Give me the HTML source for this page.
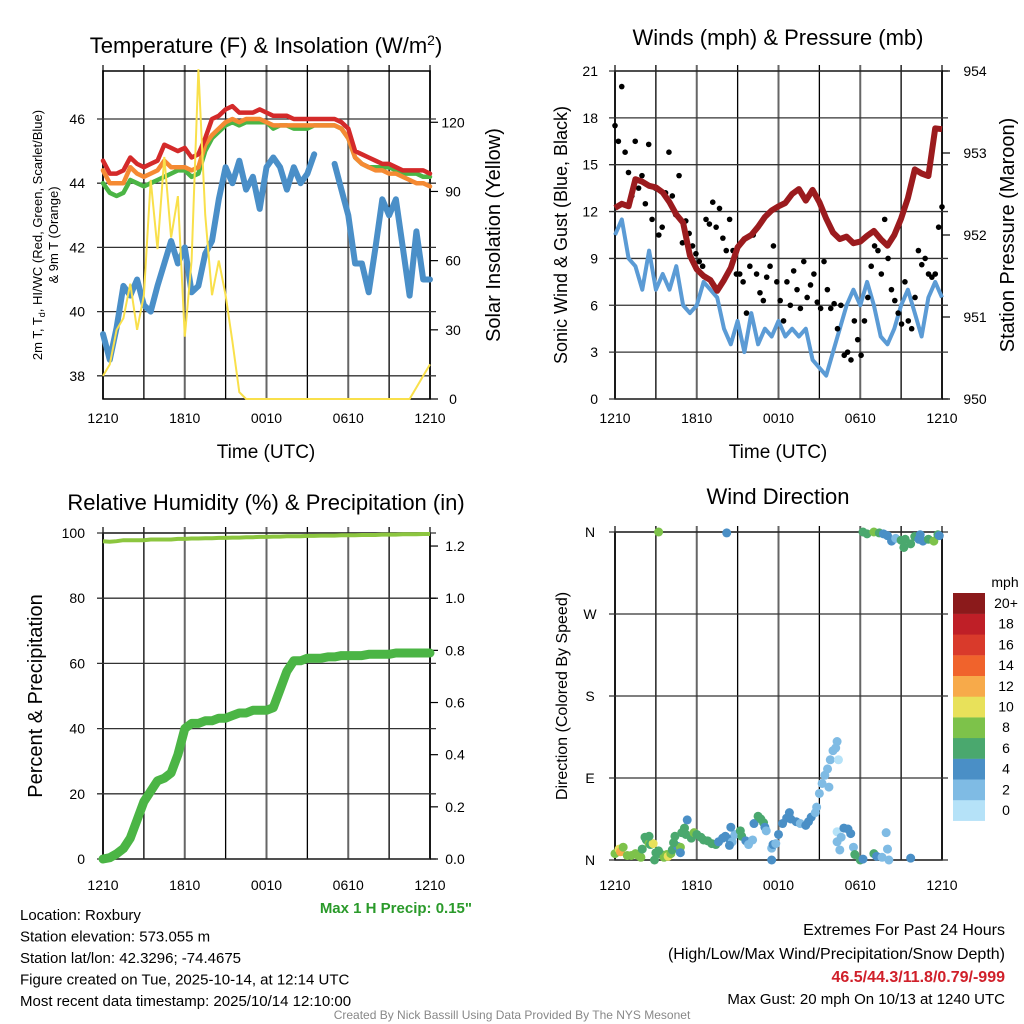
<!DOCTYPE html>
<html><head><meta charset="utf-8">
<style>
body{margin:0;background:#fff;}
svg{display:block;font-family:"Liberation Sans",Arial,sans-serif;}
</style></head>
<body>
<svg id="c" width="1024" height="1024" viewBox="0 0 1024 1024" xmlns="http://www.w3.org/2000/svg"></svg>
<script>
// ---------- DATA ----------
const timeLabels = ["1210","1810","0010","0610","1210"];
// Temperature panel (30-min samples, 49 points)
const tempRed = [44.7,44.3,44.3,44.4,44.8,44.6,44.5,44.6,44.7,45.2,45.1,45.0,45.1,44.8,44.9,45.4,46.0,46.1,46.3,46.4,46.2,46.2,46.2,46.3,46.2,46.1,46.1,46.1,46.0,46.0,46.0,46.0,46.0,46.0,46.0,45.9,45.7,45.0,44.9,44.8,44.7,44.6,44.6,44.5,44.4,44.4,44.4,44.4,44.3];
const tempOrange = [44.4,44.0,44.0,44.0,44.5,44.3,44.2,44.3,44.4,44.7,44.5,44.5,44.5,44.4,44.5,45.2,45.5,45.7,45.9,46.0,45.9,46.0,46.0,46.0,45.9,45.8,45.8,45.8,45.8,45.8,45.8,45.8,45.8,45.8,45.8,45.7,45.4,44.8,44.6,44.5,44.4,44.4,44.3,44.3,44.2,44.1,44.0,44.0,43.9];
const tempGreen = [44.0,43.7,43.6,43.7,44.1,44.0,43.9,44.0,44.1,44.2,44.3,44.4,44.4,44.2,44.3,45.0,45.4,45.6,45.8,45.9,45.8,45.9,45.9,45.9,45.9,45.7,45.8,45.8,45.7,45.7,45.7,45.8,45.8,45.8,45.8,45.7,45.4,44.8,44.6,44.5,44.5,44.5,44.5,44.4,44.3,44.3,44.3,44.2,44.2];
const tempBlue = [39.3,38.5,39.5,40.8,40.5,41.0,40.2,40.0,40.8,41.5,42.2,41.5,42.0,40.6,40.8,41.8,42.2,43.5,44.5,44.0,44.7,43.8,44.2,43.2,44.5,44.8,44.5,43.8,44.5,44.0,44.3,44.9,null,null,44.6,43.8,43.0,41.5,41.5,40.6,42.0,43.5,43.0,43.5,42.0,40.5,42.5,41.0,41.0];
const insolation = [10,15,30,35,50,30,45,95,65,105,70,88,27,60,143,80,45,60,45,25,3,0,0,0,0,0,0,0,0,0,0,0,0,0,0,0,0,0,0,0,0,0,0,0,0,0,5,10,15];
const tempTicks = [38,40,42,44,46];
const insolTicks = [0,30,60,90,120];
// Winds panel
const windSpeed = [10.5,11.5,9,8.5,7,9.5,7,8,7,8.5,6,5.5,6,7.5,7,6.5,4.5,3.5,5,3,5.5,3.5,4.5,4,5,4,4.5,4,4.5,2.5,2,1.5,3,4.5,6,7,6,7.5,6,4,3.5,4.5,6,7,5.5,4,6.5,7.5,6.5];
const windGust = [17.5,16.5,20,15.8,14.5,13,16.5,13.5,14.3,12.5,16.3,11.5,13.5,10.5,11,13.2,15.8,13,11.8,14.3,10,11.4,10.6,9.8,9.3,8.8,8.5,11.5,11.2,12.6,11,12.2,10.3,9.5,11.5,9.5,8,8,7.5,5.5,8.5,10.5,8,6.8,6.3,7.8,8.5,9.8,7.5,6.3,5,7.5,6,8.2,7,5.8,8.8,6.5,7.3,8,6.2,5.8,8.8,7,5.8,6.1,4.5,6,2.8,3,2.5,5,3.8,2.8,5,6.5,8.5,9.8,9.5,8,11.5,9,7,6.3,5.5,4.8,7.5,5,4.5,6.5,9.5,8.6,9,8,7.8,8,11,12.3];
const pressure = [952.33,952.38,952.35,952.68,952.65,952.6,952.58,952.52,952.4,952.25,952.15,951.75,951.58,951.5,951.45,951.32,951.45,951.6,951.85,951.95,952.0,952.1,952.22,952.3,952.35,952.39,952.5,952.56,952.42,952.55,952.4,952.2,952.03,951.95,951.98,951.9,951.92,951.99,952.05,951.95,951.87,952.0,952.2,952.45,952.8,952.75,952.72,953.3,953.29];
const windTicks = [0,3,6,9,12,15,18,21];
const presTicks = [950,951,952,953,954];
// Humidity panel
const rh = [97.5,97.3,97.5,97.8,97.8,97.8,97.8,98,98,98,98,98.2,98.2,98.3,98.3,98.4,98.4,98.5,98.5,98.6,98.6,98.7,98.7,98.8,98.8,98.9,98.9,99,99,99,99.1,99.1,99.2,99.2,99.2,99.3,99.3,99.3,99.4,99.4,99.4,99.5,99.5,99.5,99.6,99.6,99.6,99.7,99.7];
const precip = [0,0.005,0.02,0.04,0.08,0.15,0.22,0.26,0.3,0.31,0.33,0.4,0.5,0.52,0.52,0.53,0.53,0.54,0.54,0.55,0.56,0.56,0.57,0.57,0.57,0.58,0.65,0.72,0.76,0.76,0.77,0.77,0.77,0.775,0.775,0.78,0.78,0.78,0.78,0.785,0.785,0.785,0.785,0.79,0.79,0.79,0.79,0.79,0.79];
const pctTicks = [0,20,40,60,80,100];
const precTicks = ["0.0","0.2","0.4","0.6","0.8","1.0","1.2"];
// Wind direction panel (hours since 1210, degrees, mph)
const dirHours = [0.0,0.3,0.4,0.6,0.9,1.2,1.5,1.7,1.9,2.0,
 2.2,2.3,2.5,2.6,2.8,2.5,3.0,2.9,3.4,3.6,
 3.2,3.8,3.9,4.1,4.2,4.4,4.6,4.8,4.8,4.3,
 4.4,4.9,5.1,5.3,5.2,5.6,5.8,6.0,6.3,6.5,
 6.8,7.1,7.4,7.6,7.9,8.1,8.4,8.6,8.4,8.8,
 8.5,9.2,9.3,9.6,9.8,10.1,10.2,10.5,10.7,10.9,
 11.0,11.1,11.5,11.6,11.5,11.8,12.0,12.3,12.6,12.8,
 12.9,13.3,13.6,14.0,14.2,14.4,14.7,14.8,15.0,15.2,
 15.4,15.6,15.8,16.0,16.2,16.4,16.3,15.7,16.3,16.6,
 16.8,17.1,17.3,16.3,16.5,17.5,17.6,18.0,18.2,19.0,
 19.2,19.6,20.1,19.9,20.0,21.7,18.2,18.5,19.0,19.4,
 19.7,20.0,20.3,20.6,21.0,21.3,21.7,22.0,22.3,22.6,
 23.0,23.4,23.7,23.8,21.2,22.4,3.2,8.2];
const dirDeg = [7,12,9,14,5,5,7,5,3,12,
 25,22,18,17,18,26,8,0,6,3,
 10,6,4,7,11,14,15,14,8,19,
 26,30,35,44,28,24,30,28,25,22,
 21,18,17,20,24,26,23,20,16,28,
 36,32,26,21,17,22,40,48,45,41,
 36,32,13,17,0,18,28,40,46,52,
 45,42,40,38,42,47,52,58,73,84,
 93,100,110,120,123,110,130,80,31,25,
 35,34,29,20,11,14,6,0,1,7,
 4,3,0,30,12,2,360,358,360,359,
 358,356,350,353,351,352,347,355,352,350,
 352,350,357,356,343,357,360,359];
const dirSpeed = [9,10,13,9,8,8,8,8,8,6,
 6,7,8,7,10,6,7,7,6,8,
 6,8,10,8,7,7,4,8,4,6,
 6,6,6,4,6,6,8,7,6,6,
 6,6,6,4,4,4,4,3,4,3,
 4,6,6,4,3,3,4,6,6,6,
 4,3,3,4,4,3,4,4,4,4,
 4,4,3,4,4,4,3,3,2,2,
 2,2,2,2,2,1,2,2,1,2,
 4,4,4,2,2,3,6,6,4,6,
 4,3,3,2,2,4,6,7,8,6,
 4,4,4,2,6,6,6,6,4,4,
 7,8,6,4,6,4,8,4];
const speedLabels = ["0","2","4","6","8","10","12","14","16","18","20+"];
const speedColors = ["#b5e2f8","#7fbbe4","#4a8fc6","#4aa86e","#7dc24a","#e8e15a","#f7aa4a","#f0632c","#d93a2b","#bf1f27","#8b1a1b"];

// ---------- HELPERS ----------
const NS="http://www.w3.org/2000/svg";
const svg=document.getElementById('c');
function el(tag,attrs,parent){const e=document.createElementNS(NS,tag);for(const k in attrs)e.setAttribute(k,attrs[k]);(parent||svg).appendChild(e);return e;}
function txt(s,x,y,size,anchor,parent,extra){const t=el('text',Object.assign({x:x,y:y,'font-size':size,'text-anchor':anchor||'middle',fill:'#000'},extra||{}),parent);t.textContent=s;return t;}
function linePath(vals,xf,yf){let d='',pen=false;vals.forEach((v,i)=>{if(v===null){pen=false;return;}d+=(pen?'L':'M')+xf(i).toFixed(1)+','+yf(v).toFixed(1);pen=true;});return d;}
function frame(g,x0,y0,x1,y1,name){
  for(let k=0;k<=8;k++){const x=x0+(x1-x0)*k/8;
    const l=el('line',{x1:x,y1:y0-6,x2:x,y2:y1,stroke:k%2?'#000':'#666','stroke-width':k%2?1.3:2},g);
    
    }
  const r=el('rect',{x:x0,y:y0,width:x1-x0,height:y1-y0,fill:'none',stroke:'#000','stroke-width':1.5},g);
  
  
}
function hgrid(g,x0,x1,y){const l=el('line',{x1:x0-6,y1:y,x2:x1+6,y2:y,stroke:'#333','stroke-width':1.3},g);
  
  }
function xlabels(g,x0,x1,y){timeLabels.forEach((s,k)=>{const t=txt(s,x0+(x1-x0)*k/4,y,14,'middle',g);
  
  });}

// ---------- PANEL 1: Temperature ----------
{
const g=el('g',{});
const X0=103,X1=430,Y0=71,Y1=399;
const xi=i=>X0+(X1-X0)*i/48;
const yT=v=>119+(46-v)*32.1;
const yI=v=>399-v*2.306;
frame(g,X0,Y0,X1,Y1,'temperature');
tempTicks.forEach(v=>{hgrid(g,X0,X1,yT(v));const t=txt(String(v),85,yT(v)+5,14,'end',g);
  
  });
insolTicks.forEach(v=>{el('line',{x1:X1,y1:yI(v),x2:X1+8,y2:yI(v),stroke:'#000','stroke-width':1.2},g);const t=txt(String(v),453,yI(v)+5,14,'middle',g);
  
  });
const series=[[tempBlue,'#4a8fc8',6,'dewpoint-line'],[tempGreen,'#4bb545',4.5,'windchill-line'],[tempOrange,'#f58a33',4.5,'temp-9m-line'],[tempRed,'#d42a2a',4.5,'temp-2m-line']];
series.forEach(s=>{const p=el('path',{d:linePath(s[0],xi,yT),fill:'none',stroke:s[1],'stroke-width':s[2],'stroke-linejoin':'round','stroke-linecap':'round'},g);
  
  });
const pi=el('path',{d:linePath(insolation,xi,yI),fill:'none',stroke:'#f9e04b','stroke-width':2},g);


xlabels(g,X0,X1,423);
const t1=el('text',{x:266,y:53,'font-size':22,'text-anchor':'middle',},g);
t1.innerHTML='Temperature (F) &amp; Insolation (W/m<tspan dy="-8" font-size="14">2</tspan><tspan dy="8">)</tspan>';
txt('Time (UTC)',266,458,19,'middle',g,{});
const yl=el('text',{transform:'translate(42,235) rotate(-90)','font-size':13,'text-anchor':'middle',},g);
yl.innerHTML='2m T, T<tspan dy="3" font-size="9">d</tspan><tspan dy="-3">, HI/WC (Red, Green, Scarlet/Blue)</tspan>';
txt('& 9m T (Orange)',0,0,13,'middle',g,{transform:'translate(58,235) rotate(-90)',});
txt('Solar Insolation (Yellow)',0,0,20,'middle',g,{transform:'translate(500,235) rotate(-90)',});
}

// ---------- PANEL 2: Winds ----------
{
const g=el('g',{});
const X0=615,X1=942,Y0=71,Y1=399;
const xi=i=>X0+(X1-X0)*i/48;
const yW=v=>399-v*15.62;
const yP=v=>399-(v-950)*82;
frame(g,X0,Y0,X1,Y1,'winds');
windTicks.forEach(v=>{hgrid(g,X0,X1,yW(v));const t=txt(String(v),598,yW(v)+5,14,'end',g);
  
  });
presTicks.forEach(v=>{el('line',{x1:X1,y1:yP(v),x2:X1+8,y2:yP(v),stroke:'#000','stroke-width':1.2},g);const t=txt(String(v),975,yP(v)+5,14,'middle',g);
  
  });
const pw=el('path',{d:linePath(windSpeed,xi,yW),fill:'none',stroke:'#5b9bd5','stroke-width':4,'stroke-linejoin':'round'},g);


const n=windGust.length;
windGust.forEach((v,i)=>{const c=el('circle',{cx:X0+(X1-X0)*i/(n-1),cy:yW(v),r:2.8,fill:'#000'},g);
  
  });
const pp=el('path',{d:linePath(pressure,xi,yP),fill:'none',stroke:'#9b1b1e','stroke-width':6,'stroke-linejoin':'round'},g);


xlabels(g,X0,X1,423);
txt('Winds (mph) & Pressure (mb)',778,45,22,'middle',g,{});
txt('Time (UTC)',778,458,19,'middle',g,{});
txt('Sonic Wind & Gust (Blue, Black)',0,0,18,'middle',g,{transform:'translate(567,235) rotate(-90)',});
txt('Station Pressure (Maroon)',0,0,20,'middle',g,{transform:'translate(1014,235) rotate(-90)',});
}

// ---------- PANEL 3: Humidity ----------
{
const g=el('g',{});
const X0=103,X1=430,Y0=533,Y1=859;
const xi=i=>X0+(X1-X0)*i/48;
const yH=v=>859-v*3.26;
const yR=v=>859-v*260.8;
frame(g,X0,Y0,X1,Y1,'humidity');
pctTicks.forEach(v=>{hgrid(g,X0,X1,yH(v));const t=txt(String(v),85,yH(v)+5,14,'end',g);
  
  });
precTicks.forEach(s=>{const v=parseFloat(s);el('line',{x1:X1,y1:yR(v),x2:X1+8,y2:yR(v),stroke:'#000','stroke-width':1.2},g);const t=txt(s,455,yR(v)+5,14,'middle',g);
  
  });
const ph=el('path',{d:linePath(rh,xi,yH),fill:'none',stroke:'#8cc63f','stroke-width':4},g);


const pr=el('path',{d:linePath(precip,xi,yR),fill:'none',stroke:'#4bb545','stroke-width':9,'stroke-linejoin':'round','stroke-linecap':'round'},g);


xlabels(g,X0,X1,890);
txt('Relative Humidity (%) & Precipitation (in)',266,510,22,'middle',g,{});
txt('Percent & Precipitation',0,0,20,'middle',g,{transform:'translate(42,696) rotate(-90)',});
txt('Max 1 H Precip: 0.15"',472,913,15,'end',g,{fill:'#2a9a2a','font-weight':'bold',});
}

// ---------- PANEL 4: Wind Direction ----------
{
const g=el('g',{});
const X0=615,X1=942,Y0=532,Y1=860;
const xh=h=>X0+(X1-X0)*h/24;
const yD=v=>860-v*(328/360);
frame(g,X0,Y0,X1,Y1,'direction');
[["N",0],["E",90],["S",180],["W",270],["N",360]].forEach(a=>{hgrid(g,X0,X1,yD(a[1]));const t=txt(a[0],590,yD(a[1])+5,14,'middle',g);
  
  });
dirHours.forEach((h,i)=>{const b=Math.min(10,Math.floor(dirSpeed[i]/2));
  const c=el('circle',{cx:xh(h),cy:yD(dirDeg[i]),r:4.5,fill:speedColors[b]},g);
  
  });
xlabels(g,X0,X1,890);
txt('Wind Direction',778,504,22,'middle',g,{});
txt('Direction (Colored By Speed)',0,0,16,'middle',g,{transform:'translate(567,696) rotate(-90)',});
txt('mph',1005,587,14,'middle',g,{});
speedColors.forEach((c,k)=>{const y=593+(10-k)*20.7;
  const r=el('rect',{x:953,y:y,width:32,height:20.9,fill:c},g);
  
  
  const t=txt(speedLabels[k],1006,y+15,14,'middle',g);
  
  });
}

// ---------- FOOTER TEXT ----------
{
const g=el('g',{});
const lines=["Location: Roxbury","Station elevation: 573.055 m","Station lat/lon: 42.3296; -74.4675","Figure created on Tue, 2025-10-14, at 12:14 UTC","Most recent data timestamp: 2025/10/14 12:10:00"];
lines.forEach((s,k)=>{const t=txt(s,20,920+k*21.5,15,'start',g);
  
  });
txt('Extremes For Past 24 Hours',1005,935,16,'end',g,{});
txt('(High/Low/Max Wind/Precipitation/Snow Depth)',1005,959,16,'end',g,{});
txt('46.5/44.3/11.8/0.79/-999',1005,982,16,'end',g,{fill:'#d0202a','font-weight':'bold',});
txt('Max Gust: 20 mph On 10/13 at 1240 UTC',1005,1004,15,'end',g,{});
txt('Created By Nick Bassill Using Data Provided By The NYS Mesonet',512,1019,12,'middle',g,{fill:'#888',});
}
</script>
</body></html>
